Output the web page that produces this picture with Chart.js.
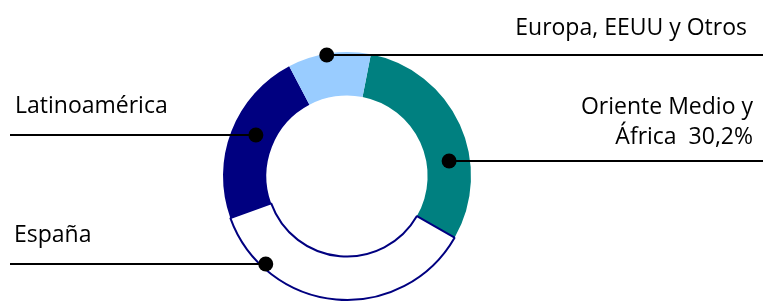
<!DOCTYPE html>
<html lang="es">
<head>
  <meta charset="UTF-8">
  <title>Distribución por regiones</title>
  <script src="https://cdn.jsdelivr.net/npm/chart.js"></script>
  <style>
    body, html {
      margin: 0;
      padding: 0;
      background: #fff;
    }
    #wrap {
      width: 763px;
      height: 302px;
    }
  </style>
</head>
<body>
  <div id="wrap"><canvas id="grafico"></canvas></div>
  <script>
    // datos
    const regiones = ["Oriente Medio y África", "España", "Latinoamérica", "Europa, EEUU y Otros"];
    const porcentajes = [30.2, 36.2, 22.8, 10.8];
    const textos = [["Oriente Medio y", "África  30,2%"], ["España"], ["Latinoamérica"], ["Europa, EEUU y Otros"]];

    const colores = ["#008080", "#ffffff", "#000080", "#99ccff"];
    const bordes = ["#008080", "#000080", "#000080", "#99ccff"];
    const anchoBorde = [0, 2, 0, 0];

    // dónde cae el punto dentro de cada sector (t = fracción del ángulo, f = fracción del grosor)
    // y dónde va el texto respecto a la línea
    const guias = [
      { t: 0.65, f: 0.52, lado: "der", xTexto: 10, dy: [-47, -17] },
      { t: 0.79, f: 0.90, lado: "izq", xTexto: 14, dy: [-22] },
      { t: 0.54, f: 0.45, lado: "izq", xTexto: 15, dy: [-22] },
      { t: 0.47, f: 0.97, lado: "der", xTexto: 16, dy: [-20] }
    ];

    const etiquetasGuia = {
      id: "etiquetasGuia",
      afterDraw(chart) {
        const c = chart.ctx;
        const arcos = chart.getDatasetMeta(0).data;
        c.save();
        c.font = "23px 'Open Sans'";
        c.fillStyle = "#000";
        c.strokeStyle = "#000";
        c.lineWidth = 2;
        c.textBaseline = "alphabetic";
        arcos.forEach((arco, i) => {
          const p = arco.getProps(["x", "y", "startAngle", "endAngle", "innerRadius", "outerRadius"]);
          const g = guias[i];
          const ang = p.startAngle + g.t * (p.endAngle - p.startAngle);
          const r = p.innerRadius + g.f * (p.outerRadius - p.innerRadius);
          const px = p.x + Math.cos(ang) * r;
          const py = Math.round(p.y + Math.sin(ang) * r);

          c.beginPath();
          if (g.lado === "der") {
            c.moveTo(px, py);
            c.lineTo(chart.width, py);
          } else {
            c.moveTo(10, py);
            c.lineTo(px, py);
          }
          c.stroke();

          c.beginPath();
          c.arc(px, py, 7.5, 0, Math.PI * 2);
          c.fill();

          c.textAlign = g.lado === "der" ? "right" : "left";
          const tx = g.lado === "der" ? chart.width - g.xTexto : g.xTexto;
          textos[i].forEach((linea, k) => {
            c.fillText(linea, tx, py + g.dy[k]);
          });
        });
        c.restore();
      }
    };

    new Chart(document.getElementById("grafico"), {
      type: "doughnut",
      data: {
        labels: regiones,
        datasets: [{
          data: porcentajes,
          backgroundColor: colores,
          borderColor: bordes,
          borderWidth: anchoBorde,
          hoverOffset: 0
        }]
      },
      options: {
        responsive: true,
        maintainAspectRatio: false,
        animation: false,
        events: [],
        rotation: 11.1,
        cutout: "65%",
        layout: {
          padding: { left: 222, right: 291, top: 51, bottom: 1 }
        },
        plugins: {
          legend: { display: false },
          tooltip: { enabled: false }
        }
      },
      plugins: [etiquetasGuia]
    });
  </script>
</body>
</html>
